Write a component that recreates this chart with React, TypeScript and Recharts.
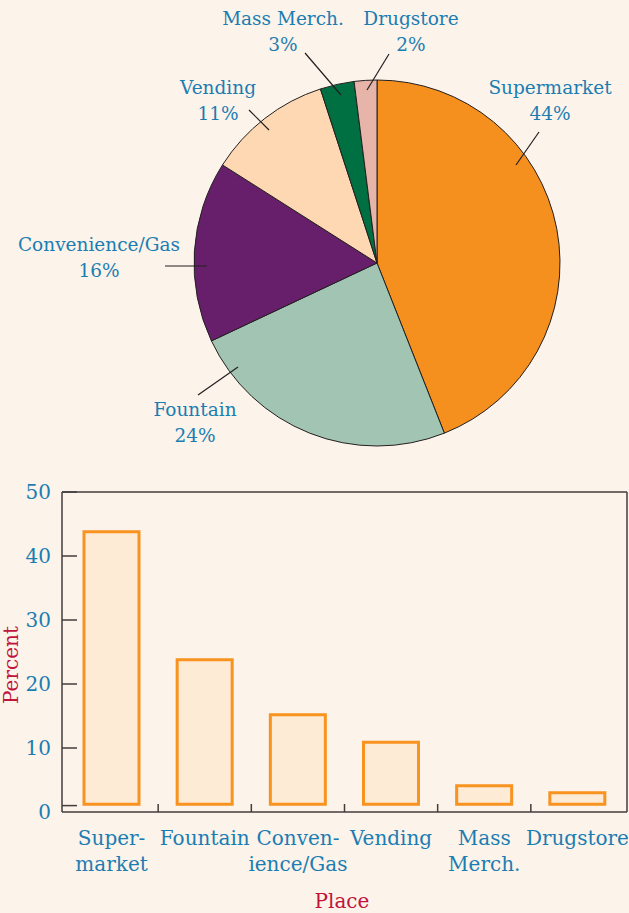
import { PieChart, Pie, Cell, BarChart, Bar, XAxis, YAxis } from "recharts";

const PLACES = ["Supermarket", "Fountain", "Convenience/Gas", "Vending", "Mass Merch.", "Drugstore"];
const PIE_SHARE = [44, 24, 16, 11, 3, 2];
const SLICE_COLORS = ["#f58f1e", "#a1c4b3", "#671f6b", "#fdd8b2", "#006f42", "#e6b4a8"];

// bars float a little above the zero line in the original
const BAR_BASE = 1.2;
const BAR_TOP = [43.8, 23.8, 15.2, 10.9, 4.1, 3.0];
const BAR_TICK_LABELS = [["Super-", "market"], ["Fountain"], ["Conven-", "ience/Gas"], ["Vending"], ["Mass", "Merch."], ["Drugstore"]];
const Y_TICKS = [0, 10, 20, 30, 40, 50];

const BG = "#fcf3ea";
const BLUE = "#1b7db2";
const RED = "#c0143c";
const AXIS = "#433d3d";
const FONT = "DejaVu Serif";

// callout placement relative to pie centre: leader line [x1,y1,x2,y2], text centre x, first baseline y
const CALLOUTS = [
  { line: [139, -98, 162, -131], tx: 173, ty: -169 },
  { line: [-139, 104, -179, 132], tx: -182, ty: 153 },
  { line: [-170, 3, -212, 3], tx: -278, ty: -12 },
  { line: [-108, -133, -128, -153], tx: -159, ty: -169 },
  { line: [-36, -168, -72, -210], tx: -94, ty: -238 },
  { line: [-10, -173, 12, -209], tx: 34, ty: -238 },
];

const pieData = PLACES.map((p, i) => ({ name: p, value: PIE_SHARE[i] }));
const barData = PLACES.map((p, i) => ({ place: p, range: [BAR_BASE, BAR_TOP[i]] }));

const PLOT_W = 565;
const X_PAD = 3;
const BAND = (PLOT_W - 2 * X_PAD) / PLACES.length;
const PX_PER_UNIT = 320 / 50;

function PieLabel(props: any) {
  const { cx, cy, index } = props;
  const c = CALLOUTS[index];
  const [x1, y1, x2, y2] = c.line;
  return (
    <g>
      <line x1={cx + x1} y1={cy + y1} x2={cx + x2} y2={cy + y2} stroke="#231f20" strokeWidth={1.2} />
      <text x={cx + c.tx} y={cy + c.ty} textAnchor="middle" fill={BLUE} fontSize={18.5} fontFamily={FONT}>
        {PLACES[index]}
      </text>
      <text x={cx + c.tx} y={cy + c.ty + 26} textAnchor="middle" fill={BLUE} fontSize={18.5} fontFamily={FONT}>
        {PIE_SHARE[index]}%
      </text>
    </g>
  );
}

function YTick(props: any) {
  const { x, y, payload } = props;
  const lineY = payload.value === 0 ? y - PX_PER_UNIT : y;
  return (
    <g>
      <line x1={x} y1={lineY} x2={x + 15} y2={lineY} stroke={AXIS} strokeWidth={1.5} />
      <text x={x - 11} y={y} dy="0.36em" textAnchor="end" fill={BLUE} fontSize={20} fontFamily={FONT}>
        {payload.value}
      </text>
    </g>
  );
}

function XTick(props: any) {
  const { x, y, index } = props;
  const lines = BAR_TICK_LABELS[index] || [];
  return (
    <g>
      {index < PLACES.length - 1 && (
        <line x1={x + BAND / 2} y1={y} x2={x + BAND / 2} y2={y - 8} stroke={AXIS} strokeWidth={1.5} />
      )}
      {lines.map((t, k) => (
        <text key={k} x={x} y={y + 33 + k * 26} textAnchor="middle" fill={BLUE} fontSize={20} fontFamily={FONT}>
          {t}
        </text>
      ))}
    </g>
  );
}

export default function App() {
  return (
    <div style={{ position: "absolute", left: 0, top: 0, width: 629, height: 913, background: BG, overflow: "hidden" }}>
      <div style={{ position: "absolute", left: 0, top: 0 }}>
        <PieChart width={629} height={460} margin={{ top: 0, right: 0, bottom: 0, left: 0 }}>
          <Pie
            data={pieData}
            dataKey="value"
            cx={377}
            cy={263}
            outerRadius={183}
            startAngle={90}
            endAngle={-270}
            stroke="#231f20"
            strokeWidth={1}
            label={PieLabel}
            labelLine={false}
            isAnimationActive={false}
          >
            {pieData.map((d, i) => (
              <Cell key={d.name} fill={SLICE_COLORS[i]} />
            ))}
          </Pie>
        </PieChart>
      </div>
      <div style={{ position: "absolute", left: 0, top: 470 }}>
        <BarChart width={629} height={443} data={barData} margin={{ top: 21, right: 1, bottom: 0, left: 0 }}>
          <XAxis
            dataKey="place"
            height={101}
            padding={{ left: X_PAD, right: X_PAD }}
            tickSize={0}
            tickMargin={0}
            tickLine={false}
            interval={0}
            axisLine={{ stroke: AXIS, strokeWidth: 1.5 }}
            tick={XTick}
            label={(p: any) => {
              const vb = p.viewBox;
              return (
                <text x={342} y={vb.y + 96} textAnchor="middle" fill={RED} fontSize={20} fontFamily={FONT}>
                  Place
                </text>
              );
            }}
          />
          <XAxis
            xAxisId="top"
            dataKey="place"
            orientation="top"
            height={1}
            tick={false}
            tickLine={false}
            axisLine={{ stroke: AXIS, strokeWidth: 1.5 }}
          />
          <YAxis
            width={62}
            domain={[0, 50]}
            ticks={Y_TICKS}
            tickSize={0}
            tickMargin={0}
            tickLine={false}
            axisLine={{ stroke: AXIS, strokeWidth: 1.5 }}
            tick={YTick}
            label={(p: any) => {
              const vb = p.viewBox;
              const cy = vb.y + vb.height / 2 + 13;
              return (
                <text
                  transform={`translate(18, ${cy}) rotate(-90)`}
                  textAnchor="middle"
                  fill={RED}
                  fontSize={20}
                  fontFamily={FONT}
                >
                  Percent
                </text>
              );
            }}
          />
          <YAxis
            yAxisId="right"
            orientation="right"
            width={1}
            domain={[0, 50]}
            tick={false}
            tickLine={false}
            axisLine={{ stroke: AXIS, strokeWidth: 1.5 }}
          />
          <Bar dataKey="range" barSize={55} fill="#fdebd6" stroke="#f7931e" strokeWidth={3} isAnimationActive={false} />
        </BarChart>
      </div>
    </div>
  );
}
